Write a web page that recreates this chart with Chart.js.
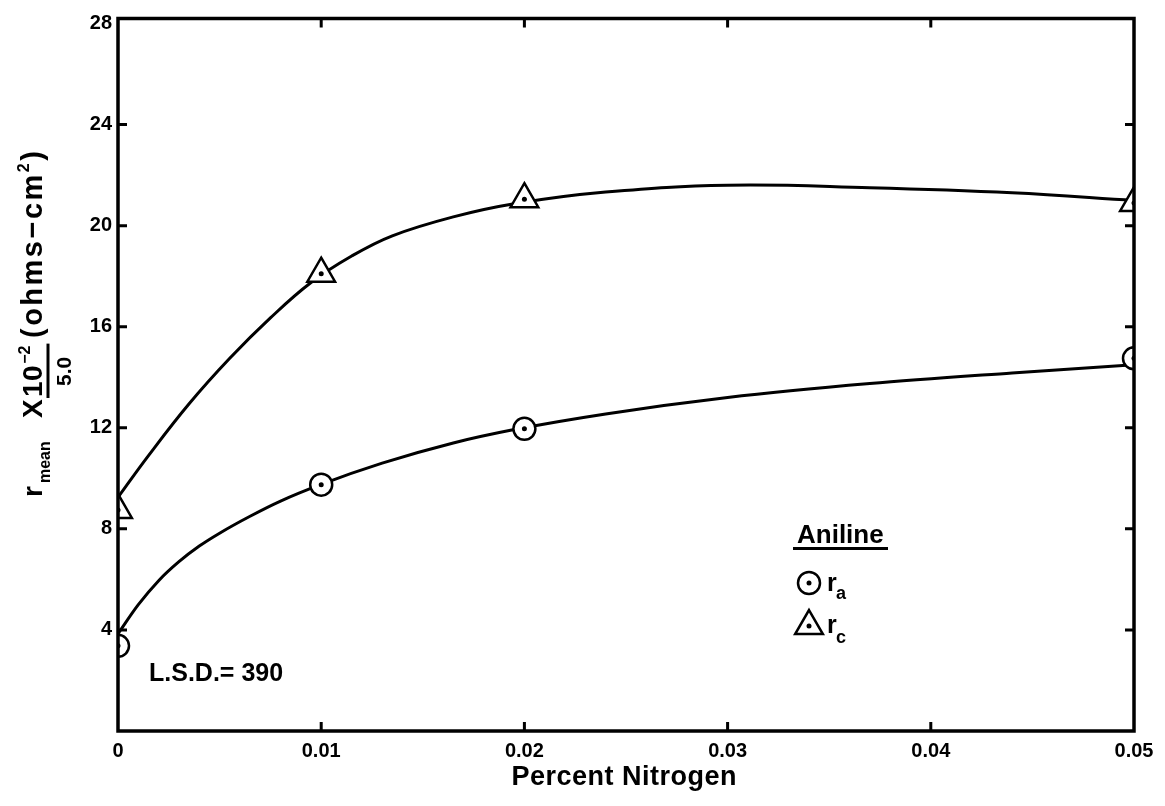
<!DOCTYPE html>
<html>
<head>
<meta charset="utf-8">
<script src="https://cdn.jsdelivr.net/npm/chart.js@4/dist/chart.umd.min.js"></script>
<style>
  html, body { margin: 0; padding: 0; background: #fff; }
  #wrap { width: 1165px; height: 806px; }
</style>
</head>
<body>
<div id="wrap"><canvas id="c" width="1165" height="806"></canvas></div>
<script>
// Measured nitrogen levels (percent) and the mean resistances at each level
const nitrogen = [0, 0.01, 0.02, 0.05];
const rA = [3.37, 9.75, 11.96, 14.75];   // r_a, circles
const rC = [8.75, 18.1, 21.05, 20.9];    // r_c, triangles

// Hand-drawn fitted curves, sampled along their length
const curveXC = [0, 0.0015, 0.0035, 0.0055, 0.0075, 0.0095, 0.0115, 0.0135, 0.0165, 0.0195, 0.024, 0.030, 0.037, 0.044, 0.050];
const curveRC = [9.25, 10.9, 12.95, 14.75, 16.35, 17.75, 18.8, 19.6, 20.35, 20.87, 21.33, 21.6, 21.5, 21.3, 21.0];
const curveXA = [0, 0.001, 0.002, 0.003, 0.004, 0.005, 0.0065, 0.008, 0.010, 0.013, 0.0165, 0.0195, 0.024, 0.030, 0.037, 0.044, 0.050];
const curveRA = [3.85, 5.0, 5.95, 6.7, 7.32, 7.83, 8.5, 9.1, 9.76, 10.6, 11.4, 11.93, 12.55, 13.2, 13.75, 14.17, 14.5];

// Axis ticks
const xTicks = [0, 0.01, 0.02, 0.03, 0.04, 0.05];
const xTickLabels = ['0', '0.01', '0.02', '0.03', '0.04', '0.05'];
const yTicks = [4, 8, 12, 16, 20, 24, 28];
const yTickLabels = ['4', '8', '12', '16', '20', '24', '28'];

const FONT = '"Liberation Sans", Arial, sans-serif';
const toPts = (xs, ys) => xs.map((x, i) => ({ x: x, y: ys[i] }));

// Writes a string glyph by glyph with extra tracking; returns the end position
function spaced(ctx, str, x, y, track) {
  for (const ch of str) {
    ctx.fillText(ch, x, y);
    x += ctx.measureText(ch).width + track;
  }
  return x;
}

// Centred variant of the tracked text helper
function spacedCenter(ctx, str, cx, y, track) {
  let w = 0;
  for (const ch of str) w += ctx.measureText(ch).width + track;
  w -= track;
  const align = ctx.textAlign;
  ctx.textAlign = 'left';
  spaced(ctx, str, cx - w / 2, y, track);
  ctx.textAlign = align;
}

// Frame with inward tick marks on all four sides
const framePlugin = {
  id: 'frame',
  afterDatasetsDraw(chart) {
    const { ctx, chartArea: a, scales } = chart;
    ctx.save();
    ctx.strokeStyle = '#000';
    ctx.lineWidth = 3.5;
    ctx.strokeRect(a.left, a.top, a.right - a.left, a.bottom - a.top);
    ctx.lineWidth = 3;
    ctx.beginPath();
    xTicks.forEach(v => {
      if (v <= 0 || v >= 0.05) return;
      const px = scales.x.getPixelForValue(v);
      ctx.moveTo(px, a.bottom); ctx.lineTo(px, a.bottom - 9);
      ctx.moveTo(px, a.top); ctx.lineTo(px, a.top + 9);
    });
    yTicks.forEach(v => {
      if (v >= 28) return;
      const py = scales.y.getPixelForValue(v);
      ctx.moveTo(a.left, py); ctx.lineTo(a.left + 9, py);
      ctx.moveTo(a.right, py); ctx.lineTo(a.right - 9, py);
    });
    ctx.stroke();
    ctx.restore();
  }
};

// Axis titles, key and annotation
const textPlugin = {
  id: 'texts',
  afterDraw(chart) {
    const { ctx } = chart;
    ctx.save();
    ctx.fillStyle = '#000';
    ctx.strokeStyle = '#000';

    // x-axis title
    ctx.font = 'bold 27px ' + FONT;
    ctx.textAlign = 'center';
    ctx.textBaseline = 'middle';
    spacedCenter(ctx, 'Percent Nitrogen', 624, 778, 0.5);

    // y-axis title, rotated
    ctx.save();
    ctx.translate(42, 497);
    ctx.rotate(-Math.PI / 2);
    ctx.textAlign = 'left';
    ctx.textBaseline = 'alphabetic';
    const big = 'bold 28px ' + FONT;
    const small = 'bold 16px ' + FONT;
    ctx.font = big; ctx.fillText('r', 0, 0);
    ctx.font = small; ctx.fillText('mean', 14, 8);
    ctx.font = big; ctx.fillText('X', 79, 0);
    const s10 = 100;
    let p = spaced(ctx, '10', s10, 0, 0.5);
    ctx.font = small; ctx.fillText('\u22122', p + 1, -12);
    const e10 = p + 1 + ctx.measureText('\u22122').width;
    ctx.lineWidth = 3;
    ctx.beginPath(); ctx.moveTo(s10 - 1, 6); ctx.lineTo(e10 + 2, 6); ctx.stroke();
    ctx.font = 'bold 21px ' + FONT;
    ctx.textAlign = 'center';
    ctx.fillText('5.0', (s10 + e10) / 2, 29);
    ctx.textAlign = 'left';
    ctx.font = 'bold 29px ' + FONT;
    p = spaced(ctx, '(ohms\u2212cm', 159, 0, 2.5);
    ctx.font = small; ctx.fillText('2', p, -13);
    p += ctx.measureText('2').width + 2.5;
    ctx.font = 'bold 29px ' + FONT; ctx.fillText(')', p, 0);
    ctx.restore();

    // key
    ctx.textAlign = 'left';
    ctx.textBaseline = 'alphabetic';
    ctx.font = 'bold 26px ' + FONT;
    ctx.fillText('Aniline', 797, 543);
    ctx.lineWidth = 3;
    ctx.beginPath(); ctx.moveTo(793, 548.5); ctx.lineTo(888, 548.5); ctx.stroke();

    ctx.lineWidth = 2.5;
    ctx.beginPath(); ctx.arc(809, 583, 11, 0, Math.PI * 2); ctx.stroke();
    ctx.beginPath(); ctx.arc(809, 583, 2.5, 0, Math.PI * 2); ctx.fill();
    const tr = 16, tx = 809, ty = 626;
    ctx.beginPath();
    for (let k = 0; k < 3; k++) {
      const ang = k * 2 * Math.PI / 3;
      const X = tx + Math.sin(ang) * tr, Y = ty - Math.cos(ang) * tr;
      k ? ctx.lineTo(X, Y) : ctx.moveTo(X, Y);
    }
    ctx.closePath(); ctx.stroke();
    ctx.beginPath(); ctx.arc(tx, ty, 2.5, 0, Math.PI * 2); ctx.fill();

    ctx.font = 'bold 25px ' + FONT;
    ctx.fillText('r', 827, 591);
    ctx.fillText('r', 827, 633);
    ctx.font = 'bold 18px ' + FONT;
    ctx.fillText('a', 836, 599);
    ctx.fillText('c', 836, 643);

    // least significant difference note
    ctx.font = 'bold 25px ' + FONT;
    ctx.textBaseline = 'middle';
    ctx.fillText('L.S.D.= 390', 149, 674);
    ctx.restore();
  }
};

new Chart(document.getElementById('c'), {
  type: 'scatter',
  data: {
    datasets: [
      { label: 'r_c curve', data: toPts(curveXC, curveRC), showLine: true, borderColor: '#000', borderWidth: 3,
        pointRadius: 0, tension: 0.4, order: 3 },
      { label: 'r_a curve', data: toPts(curveXA, curveRA), showLine: true, borderColor: '#000', borderWidth: 3,
        pointRadius: 0, cubicInterpolationMode: 'monotone', order: 3 },
      { label: 'r_a', data: toPts(nitrogen, rA), pointStyle: 'circle', pointRadius: 11,
        pointBorderWidth: 2.5, pointBorderColor: '#000', pointBackgroundColor: '#fff', clip: 0, order: 2 },
      { label: 'r_c', data: toPts(nitrogen, rC), pointStyle: 'triangle', pointRadius: 16,
        pointBorderWidth: 2.5, pointBorderColor: '#000', pointBackgroundColor: '#fff', clip: 0, order: 2 },
      { label: 'r_a centre', data: toPts(nitrogen, rA), pointStyle: 'circle', pointRadius: 2.5,
        pointBorderWidth: 0, pointBackgroundColor: '#000', clip: 0, order: 1 },
      { label: 'r_c centre', data: toPts(nitrogen, rC), pointStyle: 'circle', pointRadius: 2.5,
        pointBorderWidth: 0, pointBackgroundColor: '#000', clip: 0, order: 1 }
    ]
  },
  options: {
    responsive: false,
    animation: false,
    devicePixelRatio: 1,
    layout: { padding: { top: 12, right: 31, left: 0, bottom: 0 } },
    plugins: { legend: { display: false }, tooltip: { enabled: false } },
    scales: {
      x: {
        type: 'linear', min: 0, max: 0.05,
        grid: { display: false, drawTicks: false },
        border: { display: false },
        afterBuildTicks: s => { s.ticks = xTicks.map(v => ({ value: v })); },
        afterFit: s => { s.height = 75; },
        ticks: {
          autoSkip: false, maxRotation: 0, padding: 8, color: '#000',
          font: { family: FONT, size: 20, weight: 'bold' },
          callback: (v, i) => xTickLabels[i]
        }
      },
      y: {
        type: 'linear', min: 0, max: 28.2,
        grid: { display: false, drawTicks: false },
        border: { display: false },
        afterBuildTicks: s => { s.ticks = yTicks.map(v => ({ value: v })); },
        afterFit: s => { s.width = 118; },
        ticks: {
          autoSkip: false, padding: 6, color: '#000',
          font: { family: FONT, size: 20, weight: 'bold' },
          callback: (v, i) => yTickLabels[i]
        }
      }
    }
  },
  plugins: [framePlugin, textPlugin]
});
</script>
</body>
</html>
